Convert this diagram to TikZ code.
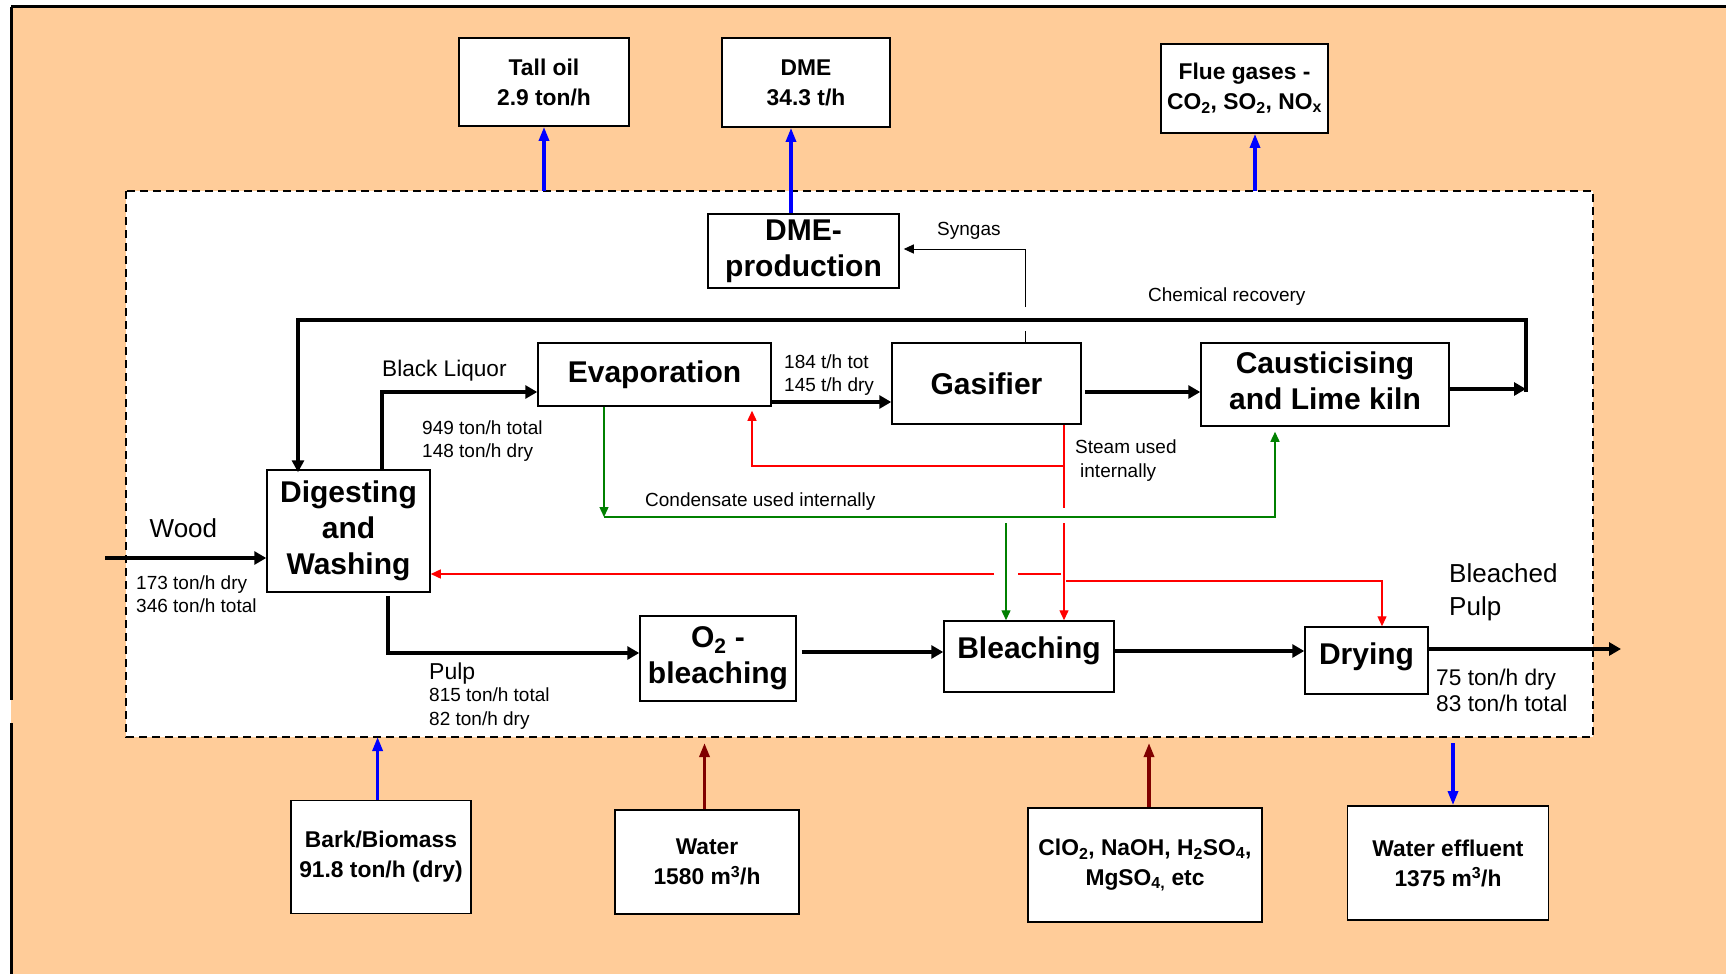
\documentclass[tikz,border=0pt]{standalone}
\usepackage{fontspec}
\setmainfont{Liberation Sans}
\usetikzlibrary{arrows.meta,calc}
\definecolor{peach}{HTML}{FFCC99}
\definecolor{dkred}{HTML}{800000}
\definecolor{dkgreen}{HTML}{008000}
\tikzset{
 pbox/.style={draw, line width=1.5pt, fill=white, align=center, inner sep=0pt, font=\fontsize{30}{36}\selectfont\bfseries},
 obox/.style={draw, line width=1.8pt, fill=white, align=center, inner sep=0pt, font=\fontsize{22.8}{30}\selectfont\bfseries},
 lbl/.style={inner sep=0pt, anchor=west, align=left, font=\fontsize{19}{23}\selectfont},
 flow/.style={line width=4pt, -{Triangle[length=12pt,width=13pt]}},
 recov/.style={line width=3.5pt, -{Triangle[length=12pt,width=12pt]}},
 thinline/.style={line width=1.4pt},
 thinarrow/.style={line width=1.4pt, -{Triangle[length=10pt,width=9pt]}},
 sidearrow/.style={line width=3.2pt, -{Triangle[length=14pt,width=10pt]}},
}
\begin{document}
\begin{tikzpicture}[x=1pt,y=-1pt]
\useasboundingbox (0,0) rectangle (1726,974);
% background and frame
\fill[white] (0,0) rectangle (1726,974);
\fill[peach] (11,7) rectangle (1726,974);
\draw[line width=3pt] (11,7) -- (1726,7);
\draw[line width=3pt] (11,7) -- (11,700);
\draw[line width=3pt] (11,723) -- (11,974);
% dashed system boundary
\draw[fill=white, line width=1.5pt, dash pattern=on 8pt off 5pt] (126,191) rectangle (1593,737);

% process boxes
\node[pbox, minimum width=191pt, minimum height=74pt] (dmeprod) at (803.5,251) {\raisebox{-12pt}{\begin{tabular}{@{}c@{}}DME-\\production\end{tabular}}};
\node[pbox, minimum width=233pt, minimum height=63pt] (evap) at (654.5,374.5) {\raisebox{-12pt}{Evaporation}};
\node[pbox, minimum width=189pt, minimum height=81pt] (gas) at (986.5,383.5) {Gasifier};
\node[pbox, minimum width=248pt, minimum height=83pt] (caus) at (1325,384.5) {\raisebox{5pt}{\begin{tabular}{@{}c@{}}Causticising\\and Lime kiln\end{tabular}}};
\node[pbox, minimum width=163pt, minimum height=122pt] (dig) at (348.5,531) {Digesting\\and\\Washing};
\node[pbox, minimum width=156pt, minimum height=85pt] (o2) at (718,658.5) {O\textsubscript{2} -\\bleaching};
\node[pbox, minimum width=170pt, minimum height=71pt] (bleach) at (1029,656.5) {\raisebox{18pt}{Bleaching}};
\node[pbox, minimum width=123pt, minimum height=67pt] (dry) at (1366.5,660.5) {\raisebox{14pt}{Drying}};

% outside boxes
\node[obox, minimum width=170pt, minimum height=88pt] (tall) at (544,82) {Tall oil\\2.9 ton/h};
\node[obox, minimum width=168pt, minimum height=89pt] (dme) at (806,82.5) {DME\\34.3 t/h};
\node[obox, minimum width=167pt, minimum height=89pt] (flue) at (1244.5,88.5) {Flue gases -\\CO\textsubscript{2}, SO\textsubscript{2}, NO\textsubscript{x}};
\node[obox, minimum width=180pt, minimum height=113pt] (bark) at (381,857) {Bark/Biomass\\91.8 ton/h (dry)};
\node[obox, minimum width=184pt, minimum height=104pt] (water) at (707,862) {Water\\1580 m\textsuperscript{3}/h};
\node[obox, minimum width=234pt, minimum height=114pt] (chem) at (1145,865) {ClO\textsubscript{2}, NaOH, H\textsubscript{2}SO\textsubscript{4},\\MgSO\textsubscript{4,} etc};
\node[obox, minimum width=201pt, minimum height=114pt] (eff) at (1448,863) {Water effluent\\1375 m\textsuperscript{3}/h};

% helper coordinates
\coordinate (dtop) at (0,191);
\coordinate (dbot) at (0,737);
\coordinate (dbot2) at (0,743);
\coordinate (dmex) at (791,0);
\coordinate (fluex) at (1255,0);
\coordinate (barkx) at (377.6,0);
\coordinate (waterx) at (704.5,0);
\coordinate (chemx) at (1149,0);
\coordinate (effx) at (1453,0);

% blue / dark red external streams
\draw[blue, sidearrow] (tall.south |- dtop) -- (tall.south);
\draw[blue, sidearrow] (dmeprod.north -| dmex) -- (dme.south -| dmex);
\draw[blue, sidearrow] (fluex |- dtop) -- (flue.south -| fluex);
\draw[blue, sidearrow] (bark.north -| barkx) -- (barkx |- dbot);
\draw[dkred, sidearrow] (water.north -| waterx) -- (waterx |- dbot2);
\draw[dkred, sidearrow] (chem.north -| chemx) -- (chemx |- dbot2);
\draw[blue, sidearrow] (effx |- dbot2) -- (eff.north -| effx);

% main flows
\coordinate (woodin) at (105,558);
\draw[flow] (woodin) -- (woodin -| dig.west);
\coordinate (bl) at (382,392);
\draw[flow, line width=3.5pt] (dig.north -| bl) -- (bl) -- (bl -| evap.west);
\coordinate (eg) at (0,402);
\draw[flow] (evap.east |- eg) -- (gas.west |- eg);
\coordinate (gcs) at (1085,392);
\draw[flow] (gcs) -- (gcs -| caus.west);
\coordinate (cr) at (1526,389);
\draw[flow] (caus.east |- cr) -- (cr);
\coordinate (crb) at (1526,392);
\coordinate (crtop) at (1526,320);
\coordinate (crleft) at (298,320);
\draw[recov, shorten >=-3pt] (crb) -- (crtop) -- (crleft) -- (crleft |- dig.north);

% syngas
\coordinate (sg) at (1025,249);
\coordinate (sga) at (1025,331);
\coordinate (sgb) at (1025,307);
\draw[line width=1pt] (gas.north -| sg) -- (sga);
\draw[line width=1pt, -{Triangle[length=10pt,width=9pt]}, shorten >=4pt] (sgb) -- (sg) -- (sg -| dmeprod.east);

% pulp line
\coordinate (pl) at (388,653);
\draw[flow, shorten <=3pt] (dig.south -| pl) -- (pl) -- (pl -| o2.west);
\coordinate (ob) at (0,652);
\draw[flow, shorten <=5pt] (o2.east |- ob) -- (bleach.west |- ob);
\coordinate (bd) at (0,651);
\draw[flow] (bleach.east |- bd) -- (dry.west |- bd);
\coordinate (out) at (1621,649);
\draw[flow] (dry.east |- out) -- (out);

% condensate (green)
\coordinate (g1) at (604,517);
\coordinate (g2) at (1275,517);
\coordinate (g3) at (1006,523);
\draw[dkgreen, thinarrow] (evap.south -| g1) -- (g1);
\draw[dkgreen, thinarrow, shorten >=5pt] (g1) -- (g2) -- (caus.south -| g2);
\draw[dkgreen, thinarrow] (g3) -- (bleach.north -| g3);

% steam (red)
\coordinate (r0) at (1064,466);
\coordinate (r1) at (1064,508);
\coordinate (r2) at (1064,523);
\coordinate (r3) at (752,466);
\draw[red, thinline] (gas.south -| r0) -- (r1);
\draw[red, thinarrow] (r2) -- (bleach.north -| r2);
\draw[red, thinarrow, shorten >=4pt] (r0) -- (r3) -- (evap.south -| r3);
\coordinate (r4) at (1061,574);
\coordinate (r5) at (1018,574);
\coordinate (r6) at (994,574);
\draw[red, thinline] (r4) -- (r5);
\draw[red, thinarrow] (r6) -- (r6 -| dig.east);
\coordinate (r7) at (1066,581);
\coordinate (r8) at (1382,581);
\draw[red, thinarrow] (r7) -- (r8) -- (dry.north -| r8);

% labels
\node[lbl, font=\fontsize{22.6}{27}\selectfont] (lbl) at (382,371) {Black Liquor};
\node[lbl] (l949) at (422,441) {949 ton/h total\\148 ton/h dry};
\node[lbl] (l184) at (784,375.5) {184 t/h tot\\145 t/h dry};
\node[lbl] (lsyn) at (937,231) {Syngas};
\node[lbl] (lchem) at (1148,297) {Chemical recovery};
\node[lbl, font=\fontsize{19}{24}\selectfont] (lsteam) at (1075,461) {Steam used\\\hspace*{5pt}internally};
\node[lbl] (lcond) at (645,502) {Condensate used internally};
\node[lbl, font=\fontsize{26}{31}\selectfont] (lwood) at (149.5,528) {Wood};
\node[lbl] (l173) at (136,594.5) {173 ton/h dry\\346 ton/h total};
\node[lbl, font=\fontsize{23}{28}\selectfont] (lpulp) at (429,674) {Pulp};
\node[lbl, font=\fontsize{19}{24}\selectfont] (l815) at (429,709) {815 ton/h total\\82 ton/h dry};
\node[lbl, font=\fontsize{26}{33}\selectfont] (lbp) at (1449,592) {Bleached\\Pulp};
\node[lbl, font=\fontsize{22.7}{26}\selectfont] (l75) at (1436,690) {75 ton/h dry\\83 ton/h total};
\end{tikzpicture}
\end{document}
